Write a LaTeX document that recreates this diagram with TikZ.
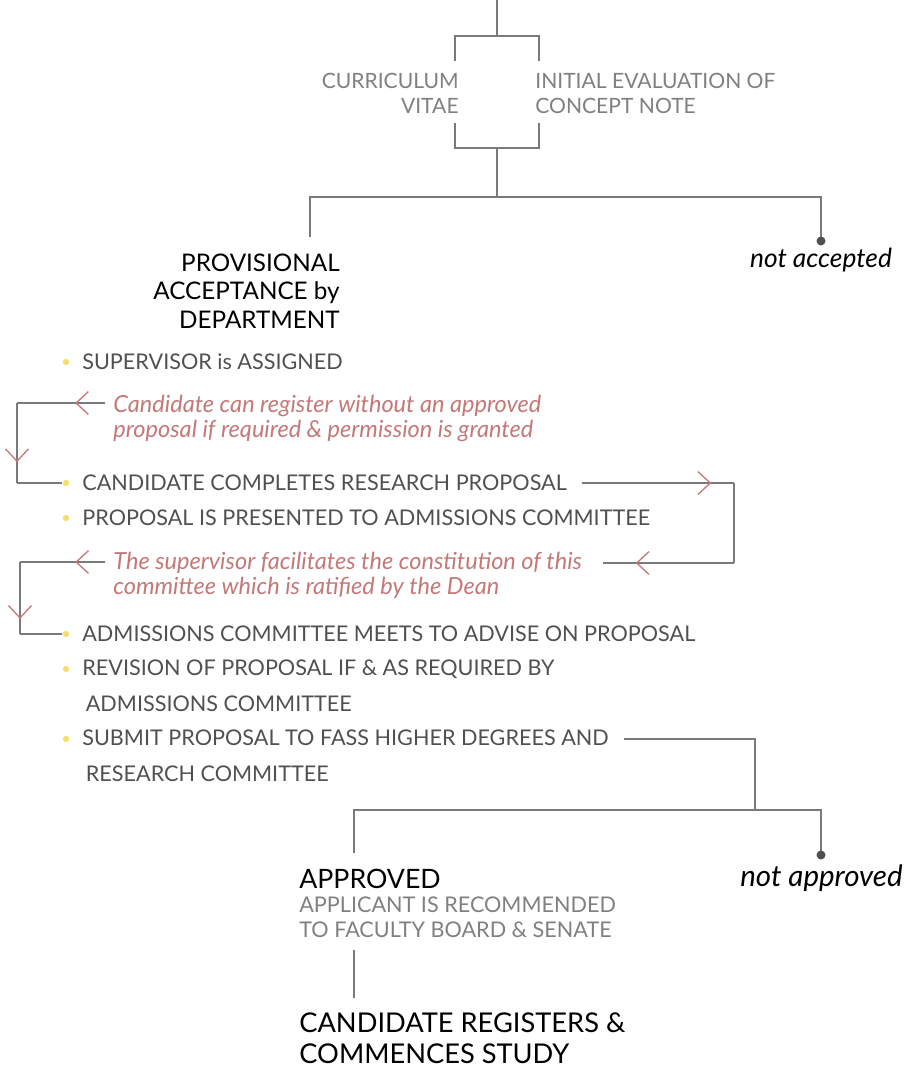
\documentclass[tikz,border=0pt]{standalone}
\usepackage{fontspec}
\setmainfont{Lato}
\usetikzlibrary{arrows.meta,decorations.markings}

\definecolor{linegray}{HTML}{7A7A7A}
\definecolor{softgray}{HTML}{808080}
\definecolor{itemgray}{HTML}{505050}
\definecolor{notered}{HTML}{C47878}
\definecolor{dotyellow}{HTML}{F6DE6C}
\definecolor{dotgray}{HTML}{505050}

\tikzset{
  line/.style={draw=linegray,line width=0.75pt},
  chev/.style={postaction={decorate},decoration={markings,
    mark=at position #1 with {\arrow[notered,line width=0.75pt]{Straight Barb[length=7pt,width=13pt]}}}},
  sub/.style={inner sep=0pt,text=softgray,font=\fontsize{12}{14.2}\selectfont},
  item/.style={inner sep=0pt,text=itemgray,anchor=base west,align=left,font=\fontsize{12.3}{20}\selectfont},
  note/.style={inner sep=0pt,text=notered,anchor=base west,align=left,font=\fontsize{13.4}{14.2}\selectfont\itshape},
  head/.style={inner sep=0pt,text=black,font=\fontsize{13.8}{16.2}\selectfont},
  outcome/.style={inner sep=0pt,text=black,font=\fontsize{15}{16}\selectfont\itshape},
}

\begin{document}
\begin{tikzpicture}[x=0.02cm,y=-0.02cm]
\useasboundingbox (0,0) rectangle (911,1066);

% entry
\node[sub,anchor=base east,align=right] (cv) at (459,113) {CURRICULUM\\VITAE};
\node[sub,anchor=base west,align=left]  (ie) at (535,113) {INITIAL EVALUATION OF\\CONCEPT NOTE};
\coordinate (start) at (497,0);
\coordinate (fork)  at (497,36);
\coordinate (join)  at (497,148);
\coordinate (cvT) at (455,61);  \coordinate (ieT) at (539,61);
\coordinate (cvB) at (455,123); \coordinate (ieB) at (539,123);
\draw[line] (start) -- (fork);
\draw[line] (cvT) |- (fork) -| (ieT);
\draw[line] (cvB) |- (join) -| (ieB);

% first decision
\node[head,anchor=base east,align=right] (prov) at (340,328) {PROVISIONAL\\ACCEPTANCE by\\DEPARTMENT};
\node[outcome,anchor=base] (nacc) at (821,267) {not accepted};
\coordinate (split) at (497,197);
\coordinate (provT) at (310,237);
\coordinate (naccT) at (821,241);
\draw[line] (join) -- (split);
\draw[line] (provT) |- (split) -| (naccT);
\fill[dotgray] (naccT) circle (4.5);

% steps
\node[item] (b1) at (82,369) {SUPERVISOR is ASSIGNED};
\node[item] (b2) at (82,490) {CANDIDATE COMPLETES RESEARCH PROPOSAL};
\node[item] (b3) at (82,525) {PROPOSAL IS PRESENTED TO ADMISSIONS COMMITTEE};
\node[item] (b4) at (82,641) {ADMISSIONS COMMITTEE MEETS TO ADVISE ON PROPOSAL};
\node[item] (b5) at (82,711) {REVISION OF PROPOSAL IF \& AS REQUIRED BY\\\hspace{2pt}ADMISSIONS COMMITTEE};
\node[item] (b6) at (82,781) {SUBMIT PROPOSAL TO FASS HIGHER DEGREES AND\\\hspace{2pt}RESEARCH COMMITTEE};
\foreach \y in {362,483,518,634,669,739}
  \fill[dotyellow] (66,\y) circle (3.2);

% side notes
\node[note] (n1) at (113,437) {Candidate can register without an approved\\proposal if required \& permission is granted};
\node[note] (n2) at (113,594) {The supervisor facilitates the constitution of this\\committee which is ratified by the Dean};

\coordinate (n1in) at (105,403); \coordinate (n1c) at (17,403);
\coordinate (n1d) at (17,483);   \coordinate (b2in) at (62,483);
\draw[line,chev=0.34] (n1in) -- (n1c);
\draw[line,chev=0.74] (n1c) -- (n1d);
\draw[line] (n1d) -- (b2in);

\coordinate (b2out) at (582,483); \coordinate (r1) at (734,483);
\coordinate (r2) at (734,563);    \coordinate (n2out) at (603,563);
\draw[line,chev=0.85] (b2out) -- (r1);
\draw[line] (r1) -- (r2);
\draw[line,chev=0.75] (r2) -- (n2out);

\coordinate (n2in) at (105,562); \coordinate (n2c) at (20,562);
\coordinate (n2d) at (20,634);   \coordinate (b4in) at (62,634);
\draw[line,chev=0.35] (n2in) -- (n2c);
\draw[line,chev=0.79] (n2c) -- (n2d);
\draw[line] (n2d) -- (b4in);

% second decision
\coordinate (b6out) at (624,739); \coordinate (b6c) at (755,739);
\coordinate (split2) at (755,810);
\coordinate (apprT) at (354,853);
\coordinate (naprT) at (821,855);
\draw[line] (b6out) -- (b6c) -- (split2);
\draw[line] (apprT) |- (split2) -| (naprT);
\fill[dotgray] (naprT) circle (4.5);

\node[head,anchor=base west,font=\fontsize{15.2}{16}\selectfont] (appr) at (299,888) {APPROVED};
\node[sub,anchor=base west,align=left,font=\fontsize{12.3}{14.2}\selectfont] (rec) at (299,937) {APPLICANT IS RECOMMENDED\\TO FACULTY BOARD \& SENATE};
\node[outcome,anchor=base east,font=\fontsize{16.8}{17}\selectfont\itshape] (napr) at (903,886) {not approved};

\coordinate (recB) at (354,950);
\coordinate (regT) at (354,998);
\draw[line] (recB) -- (regT);
\node[head,anchor=base west,align=left,font=\fontsize{15.5}{17.6}\selectfont] (reg) at (299,1063) {CANDIDATE REGISTERS \&\\COMMENCES STUDY};
\end{tikzpicture}
\end{document}
